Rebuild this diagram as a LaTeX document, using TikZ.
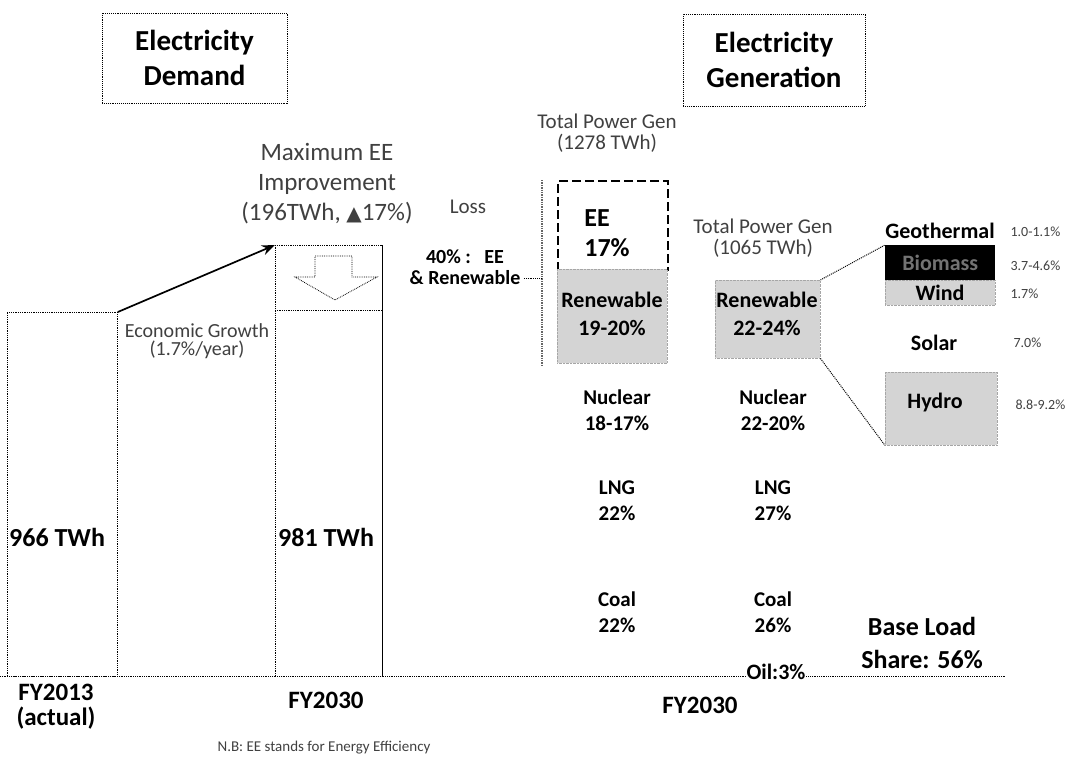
\documentclass[tikz,border=0pt]{standalone}
\usepackage{fontspec}
\setmainfont{Carlito}
\newfontfamily\symfont{DejaVu Sans}
\usetikzlibrary{arrows.meta}
\newcommand\myfs[2]{\fontsize{#1}{#2}\selectfont}
\begin{document}
\begin{tikzpicture}[x=1pt,y=-1pt,
  titlebox/.style={draw, densely dotted, line width=0.9pt, inner sep=0pt, align=center, font=\bfseries\myfs{29}{35}},
  dbox/.style={draw, densely dotted, line width=0.8pt, inner sep=0pt, anchor=north west},
  shade/.style={fill=black!17, draw=black!35, densely dotted, inner sep=0pt, anchor=north west},
  blbl/.style={align=center, font=\bfseries\myfs{21}{26}},
  rlbl/.style={align=center, text=black!75, font=\myfs{21}{21}},
  pct/.style={anchor=west, text=black!75, font=\myfs{14}{16}},
  nm/.style={font=\bfseries\myfs{22}{22}},
  yr/.style={align=center, font=\bfseries\myfs{25}{25}},
  link/.style={densely dotted, line width=1pt}
]
\useasboundingbox (0,0) rectangle (1081,756);

% titles
\node[titlebox, minimum width=185pt, minimum height=90pt] (tdem) at (194.5,58) {Electricity\\Demand};
\node[titlebox, minimum width=182pt, minimum height=92pt] (tgen) at (774,60) {Electricity\\Generation};

% demand bars
\node[dbox, minimum width=110pt, minimum height=364pt] (d13) at (7,312) {};
\node[anchor=west, inner sep=1pt, font=\bfseries\myfs{26}{26}] (v13) at (8,537) {966 TWh};
\node[dbox, minimum width=107pt, minimum height=431pt] (d30) at (275,245) {};
\draw[line width=0.9pt] (d30.north east) -- (d30.south east);
\coordinate (divl) at (275,310);
\coordinate (divr) at (382,310);
\draw[densely dotted, line width=0.8pt] (divl) -- (divr);
\node[anchor=west, inner sep=1pt, font=\bfseries\myfs{26}{26}] (v30) at (277,537) {981 TWh};
\draw[densely dotted, line width=0.8pt] (315,256) -- (352,256) -- (352,277) -- (377,277) -- (335,300) -- (295,277) -- (315,277) -- cycle;
\draw[-{Stealth[length=13pt,width=10pt]}, line width=1.7pt] (d13.north east) -- (d30.north west);

\node[rlbl, font=\myfs{20}{18}] (grow) at (197,341) {Economic Growth\\(1.7\%/year)};
\node[rlbl, font=\myfs{25}{30}] (maxee) at (327,184) {Maximum EE\\Improvement\\(196TWh, {\symfont\fontsize{20}{20}\selectfont ▲}17\%)};
\node[rlbl, font=\myfs{21}{21}] (loss) at (468,207) {Loss};
\node[blbl, font=\bfseries\myfs{20}{21}] (forty) at (465,267) {40\% :\ \ \ EE\\\& Renewable};

% generation bar 1
\node[rlbl] (tot1) at (607,133) {Total Power Gen\\(1278 TWh)};
\node[draw, line width=2.2pt, dash pattern=on 9pt off 4pt, inner sep=0pt, anchor=north west, minimum width=110pt, minimum height=89pt] (ee) at (557,180) {};
\node[blbl, align=left, font=\bfseries\myfs{26}{30}] (eet) at (607,233) {EE\\17\%};
\node[shade, minimum width=110pt, minimum height=94pt] (ren1) at (557,269) {};
\node[blbl, font=\bfseries\myfs{22}{28}] at (612,314) (ren1t) {Renewable\\19-20\%};
\coordinate (bt) at (542,180);
\coordinate (bb) at (542,365);
\draw[densely dotted, line width=1.4pt, black!60] (bt) -- (bb);
\coordinate (bm) at (542,278);
\draw[densely dotted, line width=0.9pt] (forty.east |- bm) -- (bm);
\node[blbl] (nuc1) at (617,410) {Nuclear\\18-17\%};
\node[blbl] (lng1) at (617,501) {LNG\\22\%};
\node[blbl] (coal1) at (617,612) {Coal\\22\%};

% generation bar 2
\node[rlbl] (tot2) at (763,238) {Total Power Gen\\(1065 TWh)};
\node[shade, minimum width=105pt, minimum height=78pt] (ren2) at (715,280) {};
\node[blbl, font=\bfseries\myfs{22}{28}] (ren2t) at (767,314) {Renewable\\22-24\%};
\node[blbl] (nuc2) at (773,410) {Nuclear\\22-20\%};
\node[blbl] (lng2) at (773,501) {LNG\\27\%};
\node[blbl] (coal2) at (773,612) {Coal\\26\%};

% baseline
\coordinate (base0) at (0,676);
\coordinate (base1) at (1005,676);
\draw[densely dotted, line width=0.8pt] (base0) -- (base1);
\node[fill=white, inner sep=1pt, font=\bfseries\myfs{22}{22}] (oil) at (776,672) {Oil:3\%};

% renewable breakdown
\node[inner sep=0pt, nm] (geo) at (940,231) {Geothermal};
\node[fill=black, inner sep=0pt, anchor=north west, minimum width=110pt, minimum height=35pt, text=black!55, nm] (bio) at (885,245) {Biomass};
\node[shade, minimum width=110pt, minimum height=25pt] (wind) at (885,280) {};
\node[nm] (windt) at (940,293) {Wind};
\node[nm] (solar) at (934,343) {Solar};
\node[shade, minimum width=112pt, minimum height=73pt] (hydro) at (885,372) {};
\node[nm] (hydrot) at (935,403) {Hydro};
\node[pct] (pgeo) at (1007,232) {1.0-1.1\%};
\node[pct] (pbio) at (1007,266) {3.7-4.6\%};
\node[pct] (pwind) at (1007,294) {1.7\%};
\node[pct] (psol) at (1010,343) {7.0\%};
\node[pct] (phyd) at (1012,405) {8.8-9.2\%};
\draw[link] (ren2.north east) -- (bio.north west);
\draw[link] (ren2.south east) -- (hydro.south west);

\node[blbl, font=\bfseries\myfs{26}{33}] (base) at (922,643) {Base Load\\Share: 56\%};

% years
\node[yr] (y13) at (56,707) {FY2013\\(actual)};
\node[yr] (y30d) at (326,700) {FY2030};
\node[yr] (y30g) at (700,705) {FY2030};
\node[text=black!75, font=\myfs{15}{17}] (nb) at (324,748) {N.B: EE stands for Energy Efficiency};
\end{tikzpicture}
\end{document}
